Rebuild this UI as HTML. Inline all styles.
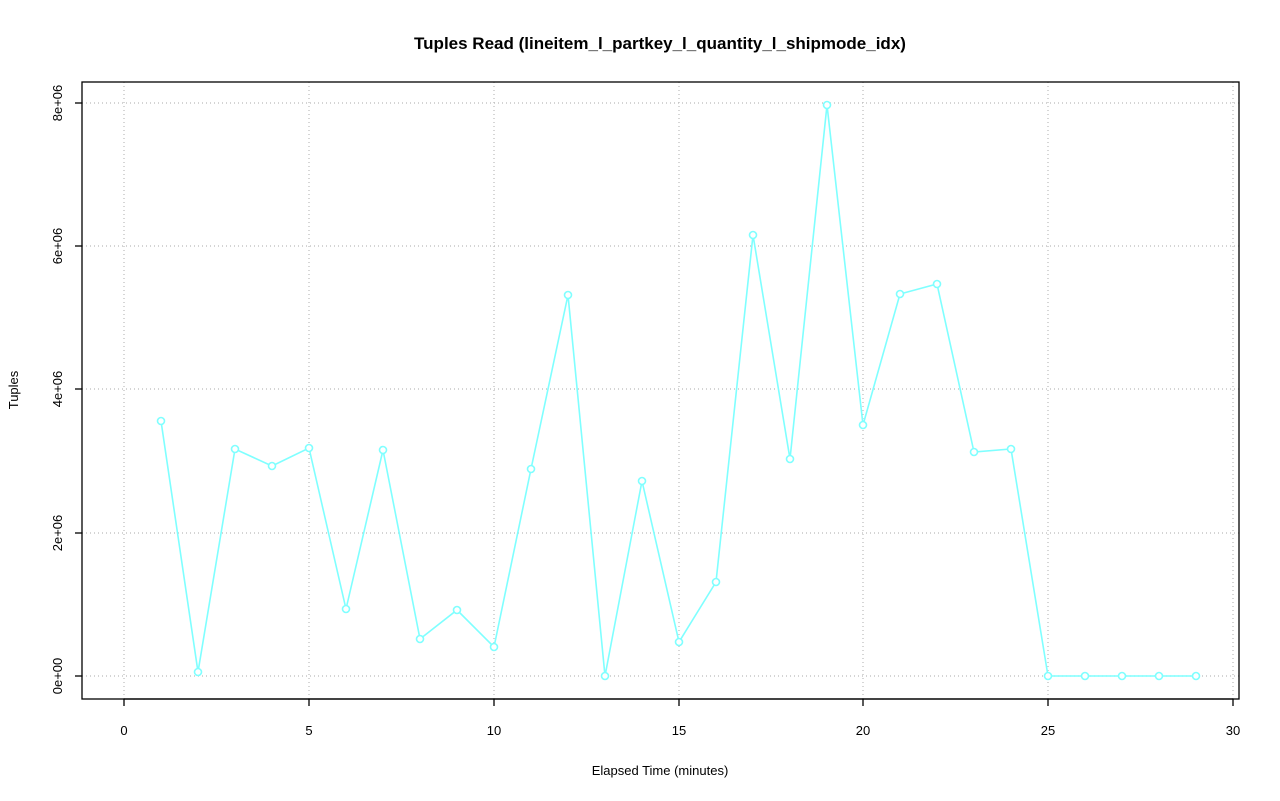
<!DOCTYPE html>
<html><head><style>body{margin:0;background:#fff}svg{display:block}</style></head><body>
<svg width="1280" height="801" xmlns="http://www.w3.org/2000/svg" font-family="Liberation Sans, sans-serif">
<rect width="1280" height="801" fill="#fff"/>
<text x="660" y="49" text-anchor="middle" font-size="17" font-weight="bold">Tuples Read (lineitem_l_partkey_l_quantity_l_shipmode_idx)</text>
<g stroke="#bbbbbb" stroke-dasharray="1,3" stroke-width="1.2">
<line x1="124" y1="82" x2="124" y2="699"/><line x1="309" y1="82" x2="309" y2="699"/><line x1="494" y1="82" x2="494" y2="699"/><line x1="679" y1="82" x2="679" y2="699"/><line x1="863" y1="82" x2="863" y2="699"/><line x1="1048" y1="82" x2="1048" y2="699"/><line x1="1233" y1="82" x2="1233" y2="699"/>
<line x1="82" y1="676" x2="1239" y2="676"/><line x1="82" y1="533" x2="1239" y2="533"/><line x1="82" y1="389" x2="1239" y2="389"/><line x1="82" y1="246" x2="1239" y2="246"/><line x1="82" y1="103" x2="1239" y2="103"/>
</g>
<rect x="82" y="82" width="1157" height="617" fill="none" stroke="#000" stroke-width="1.3"/>
<g stroke="#000" stroke-width="1.3">
<line x1="124" y1="699" x2="1233" y2="699"/>
<line x1="124" y1="699" x2="124" y2="706"/><line x1="309" y1="699" x2="309" y2="706"/><line x1="494" y1="699" x2="494" y2="706"/><line x1="679" y1="699" x2="679" y2="706"/><line x1="863" y1="699" x2="863" y2="706"/><line x1="1048" y1="699" x2="1048" y2="706"/><line x1="1233" y1="699" x2="1233" y2="706"/>
<line x1="75" y1="676" x2="82" y2="676"/><line x1="75" y1="533" x2="82" y2="533"/><line x1="75" y1="389" x2="82" y2="389"/><line x1="75" y1="246" x2="82" y2="246"/><line x1="75" y1="103" x2="82" y2="103"/>
</g>
<g font-size="13" text-anchor="middle">
<text x="124" y="735">0</text><text x="309" y="735">5</text><text x="494" y="735">10</text><text x="679" y="735">15</text><text x="863" y="735">20</text><text x="1048" y="735">25</text><text x="1233" y="735">30</text>
<text transform="translate(62,676) rotate(-90)">0e+00</text>
<text transform="translate(62,533) rotate(-90)">2e+06</text>
<text transform="translate(62,389) rotate(-90)">4e+06</text>
<text transform="translate(62,246) rotate(-90)">6e+06</text>
<text transform="translate(62,103) rotate(-90)">8e+06</text>
<text x="660" y="775">Elapsed Time (minutes)</text>
<text transform="translate(18,390) rotate(-90)">Tuples</text>
</g>
<g stroke="#7fffff" stroke-width="1.6" fill="#fff">
<polyline fill="none" points="161,421 198,672 235,449 272,466 309,448 346,609 383,450 420,639 457,610 494,647 531,469 568,295 605,676 642,481 679,642 716,582 753,235 790,459 827,105 863,425 900,294 937,284 974,452 1011,449 1048,676 1085,676 1122,676 1159,676 1196,676"/>
<circle cx="161" cy="421" r="3.5"/><circle cx="198" cy="672" r="3.5"/><circle cx="235" cy="449" r="3.5"/><circle cx="272" cy="466" r="3.5"/><circle cx="309" cy="448" r="3.5"/><circle cx="346" cy="609" r="3.5"/><circle cx="383" cy="450" r="3.5"/><circle cx="420" cy="639" r="3.5"/><circle cx="457" cy="610" r="3.5"/><circle cx="494" cy="647" r="3.5"/><circle cx="531" cy="469" r="3.5"/><circle cx="568" cy="295" r="3.5"/><circle cx="605" cy="676" r="3.5"/><circle cx="642" cy="481" r="3.5"/><circle cx="679" cy="642" r="3.5"/><circle cx="716" cy="582" r="3.5"/><circle cx="753" cy="235" r="3.5"/><circle cx="790" cy="459" r="3.5"/><circle cx="827" cy="105" r="3.5"/><circle cx="863" cy="425" r="3.5"/><circle cx="900" cy="294" r="3.5"/><circle cx="937" cy="284" r="3.5"/><circle cx="974" cy="452" r="3.5"/><circle cx="1011" cy="449" r="3.5"/><circle cx="1048" cy="676" r="3.5"/><circle cx="1085" cy="676" r="3.5"/><circle cx="1122" cy="676" r="3.5"/><circle cx="1159" cy="676" r="3.5"/><circle cx="1196" cy="676" r="3.5"/>
</g>
</svg>
</body></html>
